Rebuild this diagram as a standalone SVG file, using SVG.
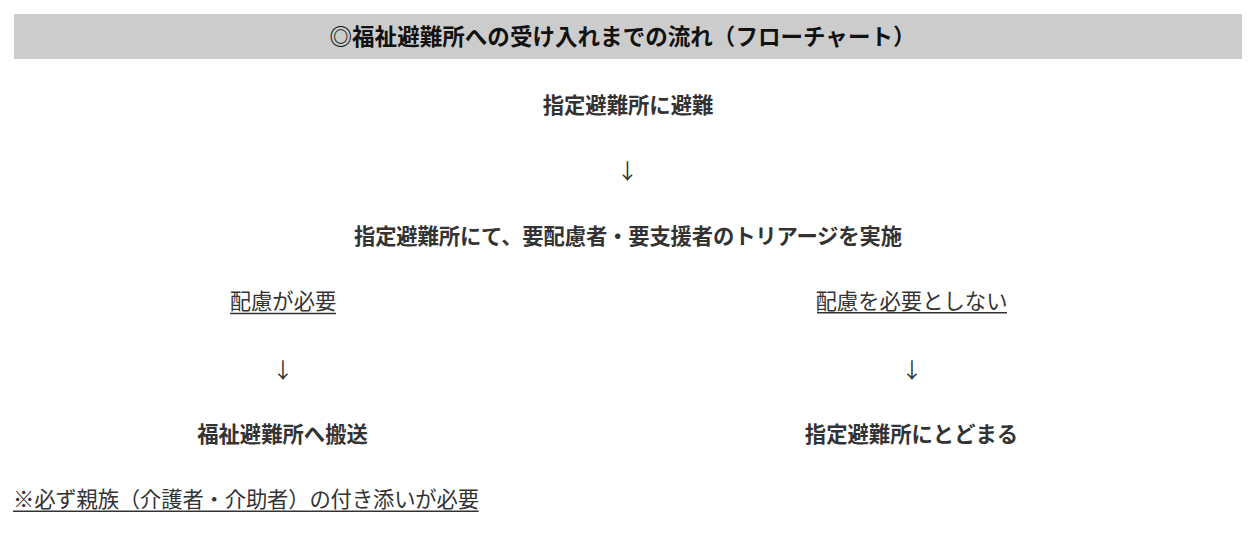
<svg xmlns="http://www.w3.org/2000/svg" width="1255" height="533" viewBox="0 0 1255 533">
<style>
text{font-family:"Noto Sans CJK JP","Noto Sans CJK SC",sans-serif;fill:#333;font-size:21.33px}
.b{font-weight:bold}
.t{font-weight:bold;fill:#111;font-size:22.5px}
.c{text-anchor:middle}
.u{stroke:#333;stroke-width:1.6}
.arr{fill:#333;text-anchor:middle}
</style>
<rect width="1255" height="533" fill="#fff"/>
<g id="title">
<rect x="14" y="14" width="1228" height="45" fill="#ccc"/>
<text class="t" x="329.5" y="44.5" textLength="586" lengthAdjust="spacing">◎福祉避難所への受け入れまでの流れ（フローチャート）</text>
</g>
<g id="node-evacuate">
<text class="b c" x="628" y="112.5">指定避難所に避難</text>
</g>
<g id="node-triage">
<text class="b" x="354" y="243.5" textLength="548" lengthAdjust="spacing">指定避難所にて、要配慮者・要支援者のトリアージを実施</text>
</g>
<g id="node-need">
<text class="c" x="283" y="308.5">配慮が必要</text>
<line class="u" x1="230" y1="313.5" x2="336" y2="313.5"/>
</g>
<g id="node-noneed">
<text class="c" x="911.5" y="308.5">配慮を必要としない</text>
<line class="u" x1="817" y1="312.8" x2="1007" y2="312.8"/>
</g>
<g id="node-transfer">
<text class="b c" x="282.5" y="441.5">福祉避難所へ搬送</text>
</g>
<g id="node-stay">
<text class="b c" x="911.5" y="441.5">指定避難所にとどまる</text>
</g>
<g id="note">
<text x="13" y="507" textLength="466" lengthAdjust="spacing">※必ず親族（介護者・介助者）の付き添いが必要</text>
<line class="u" x1="13" y1="511.3" x2="478.5" y2="511.3"/>
</g>
<g id="connectors">
<text class="arr" x="627.5" y="179">↓</text>
<text class="arr" x="283" y="377.5">↓</text>
<text class="arr" x="912" y="377.5">↓</text>
</g>
</svg>
